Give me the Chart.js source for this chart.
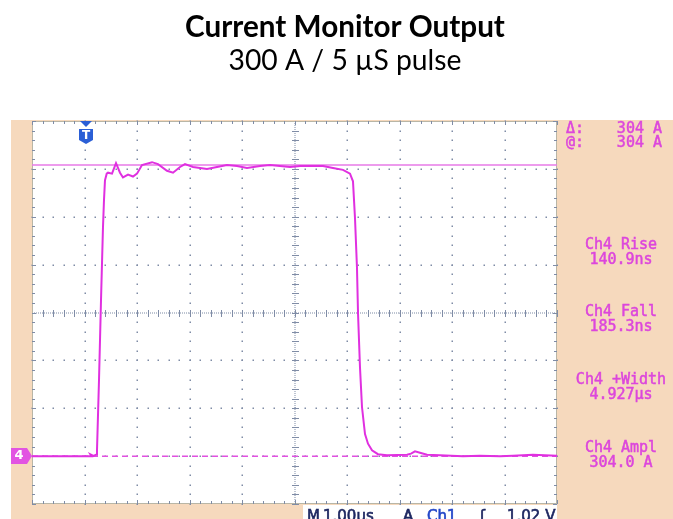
<!DOCTYPE html>
<html>
<head>
<meta charset="utf-8">
<script src="https://cdn.jsdelivr.net/npm/chart.js@4/dist/chart.umd.min.js"></script>
<style>
html,body{margin:0;padding:0;background:#fff;}
#c{display:block;}
</style>
</head>
<body>
<canvas id="c" width="673" height="519"></canvas>
<script>
// ---- data (time in µs, current in A) ----
const timeUs = [0, 1.16, 1.22, 1.238, 1.276, 1.314, 1.352, 1.371, 1.39, 1.423, 1.448, 1.524, 1.6, 1.676, 1.733, 1.829, 1.924, 2.0, 2.095, 2.286, 2.4, 2.571, 2.686, 2.819, 2.914, 3.067, 3.333, 3.524, 3.714, 3.905, 4.095, 4.343, 4.533, 4.724, 4.914, 5.105, 5.352, 5.543, 5.733, 5.924, 6.057, 6.114, 6.152, 6.19, 6.21, 6.248, 6.286, 6.343, 6.4, 6.476, 6.59, 6.762, 7.143, 7.22, 7.295, 7.39, 7.524, 7.77, 8.21, 8.53, 8.914, 9.16, 9.54, 10];
const currentA = [0, 0, 1.5, 6, 79, 162, 239, 267, 288, 295, 296, 295, 306, 296, 291, 294, 292, 295, 304, 307, 305, 298, 296, 302, 305, 302, 300, 302, 304, 303, 301, 303, 304, 303, 302, 303, 303, 303, 301, 299, 295, 287, 249, 197, 149, 92, 51, 23, 13, 6, 2, 1, 1.5, 2.6, 5, 3.5, 1.5, 1, 0, 0.5, 0, 0.5, 1.5, 0.5];
const cursorLevelsA = [304, 0];
const triggerTimeUs = 1.03;
const timeRangeUs = [0, 10];
const currentRangeA = [-50, 350];
const titleText = "Current Monitor Output";
const subtitleText = "300 A / 5 µS pulse";
const readoutTop = [["Δ:", "304 A"], ["@:", "304 A"]];
const measureLabels = ["Ch4 Rise", "Ch4 Fall", "Ch4 +Width", "Ch4 Ampl"];
const measureValues = ["140.9ns", "185.3ns", "4.927µs", "304.0 A"];
const statusText = [["M", "#1c2660"], ["1.00µs", "#1c2660"], ["A", "#1c2660"], ["Ch1", "#2346c8"], ["ʃ", "#1c2660"], ["1.02 V", "#1c2660"]];

const MAG = '#e030e0';
const PEACH = '#f6d9bd';
const GRID = '#7f8ca6';

const wave = timeUs.map((t, i) => ({x: t, y: currentA[i]}));
const cur1 = timeRangeUs.map(t => ({x: t, y: cursorLevelsA[0]}));
const cur2 = timeRangeUs.map(t => ({x: t, y: cursorLevelsA[1]}));

function boldText(ctx, txt, x, y, w) {
  ctx.lineWidth = w;
  ctx.strokeStyle = ctx.fillStyle;
  ctx.strokeText(txt, x, y);
  ctx.fillText(txt, x, y);
}

const scopePlugin = {
  id: 'scope',
  beforeDraw(chart) {
    const ctx = chart.ctx, a = chart.chartArea;
    ctx.save();
    ctx.fillStyle = '#fff';
    ctx.fillRect(0, 0, chart.width, chart.height);
    ctx.fillStyle = PEACH;
    ctx.fillRect(11, 120, chart.width - 11, chart.height - 120);
    ctx.fillStyle = '#fff';
    ctx.fillRect(a.left, a.top, a.right - a.left, a.bottom - a.top);
    ctx.fillRect(303, a.bottom + 1, a.right - 303, chart.height - a.bottom);
    ctx.restore();
  },
  beforeDatasetsDraw(chart) {
    const ctx = chart.ctx, a = chart.chartArea;
    const xs = chart.scales.x, ys = chart.scales.y;
    ctx.save();
    ctx.fillStyle = GRID;
    for (let i = timeRangeUs[0] + 1; i < timeRangeUs[1]; i++) {
      const px = xs.getPixelForValue(i);
      if (i === 5) continue;
      for (let v = currentRangeA[0]; v <= currentRangeA[1]; v += 10) {
        const py = ys.getPixelForValue(v);
        ctx.fillRect(Math.round(px) - 0.5, Math.round(py) - 0.5, 1.5, 1.5);
      }
    }
    for (let v = currentRangeA[0] + 50; v < currentRangeA[1]; v += 50) {
      const py = ys.getPixelForValue(v);
      if (v === 150) continue;
      for (let t = timeRangeUs[0]; t <= timeRangeUs[1] + 1e-9; t += 0.2) {
        const px = xs.getPixelForValue(t);
        ctx.fillRect(Math.round(px) - 0.5, Math.round(py) - 0.5, 1.5, 1.5);
      }
    }
    const cx = xs.getPixelForValue(5), cy = ys.getPixelForValue(150);
    for (let y = a.top; y <= a.bottom; y += 2) ctx.fillRect(Math.round(cx) - 0.5, y, 1, 1);
    for (let x = a.left; x <= a.right; x += 2) ctx.fillRect(x, Math.round(cy) - 0.5, 1, 1);
    for (let v = currentRangeA[0]; v <= currentRangeA[1]; v += 10) {
      const py = Math.round(ys.getPixelForValue(v));
      ctx.fillRect(Math.round(cx) - 3, py, 7, 1);
    }
    for (let t = timeRangeUs[0]; t <= timeRangeUs[1] + 1e-9; t += 0.2) {
      const px = Math.round(xs.getPixelForValue(t));
      ctx.fillRect(px, Math.round(cy) - 3, 1, 7);
    }
    ctx.strokeStyle = '#b9b6a6';
    ctx.lineWidth = 1;
    ctx.strokeRect(Math.round(a.left) + 0.5, Math.round(a.top) + 0.5, Math.round(a.right - a.left) - 1, Math.round(a.bottom - a.top) - 1);
    ctx.fillStyle = GRID;
    for (let t = timeRangeUs[0]; t <= timeRangeUs[1] + 1e-9; t += 0.2) {
      const px = Math.round(xs.getPixelForValue(t));
      const big = Math.abs(t - Math.round(t)) < 1e-6;
      ctx.fillRect(px, a.top, 1, big ? 4 : 3);
      ctx.fillRect(px, a.bottom - (big ? 4 : 3), 1, big ? 4 : 3);
    }
    for (let v = currentRangeA[0]; v <= currentRangeA[1]; v += 10) {
      const py = Math.round(ys.getPixelForValue(v));
      const big = v % 50 === 0;
      ctx.fillRect(a.left, py, big ? 4 : 3, 1);
      ctx.fillRect(a.right - (big ? 4 : 3), py, big ? 4 : 3, 1);
    }
    ctx.restore();
  },
  afterDraw(chart) {
    const ctx = chart.ctx, a = chart.chartArea;
    const xs = chart.scales.x, ys = chart.scales.y;
    ctx.save();
    ctx.fillStyle = '#000';
    ctx.textAlign = 'center';
    ctx.textBaseline = 'alphabetic';
    let s = 24;
    ctx.font = `bold ${s}px Lato`;
    s = s * 320 / ctx.measureText(titleText).width;
    ctx.font = `bold ${s}px Lato`;
    ctx.fillText(titleText, 345, 37);
    s = 24;
    ctx.font = `${s}px Lato`;
    s = s * 233 / ctx.measureText(subtitleText).width;
    ctx.font = `${s}px Lato`;
    ctx.fillText(subtitleText, 345, 70);

    // trigger marker
    const tx = Math.round(xs.getPixelForValue(triggerTimeUs));
    ctx.fillStyle = '#2b5fd6';
    ctx.beginPath();
    ctx.moveTo(tx - 6, a.top); ctx.lineTo(tx + 6, a.top); ctx.lineTo(tx, a.top + 6); ctx.closePath(); ctx.fill();
    ctx.beginPath();
    ctx.moveTo(tx - 7, a.top + 8); ctx.lineTo(tx + 7, a.top + 8); ctx.lineTo(tx + 7, a.top + 19);
    ctx.lineTo(tx, a.top + 23); ctx.lineTo(tx - 7, a.top + 19); ctx.closePath(); ctx.fill();
    ctx.fillStyle = '#fff';
    ctx.font = 'bold 12px "DejaVu Sans"';
    ctx.textAlign = 'center'; ctx.textBaseline = 'middle';
    ctx.fillText('T', tx, a.top + 15);

    // channel 4 ground marker
    const gy = Math.round(ys.getPixelForValue(0));
    ctx.fillStyle = '#e254e2';
    ctx.beginPath();
    ctx.moveTo(11, gy - 8); ctx.lineTo(27, gy - 8); ctx.lineTo(32, gy); ctx.lineTo(27, gy + 8); ctx.lineTo(11, gy + 8); ctx.closePath(); ctx.fill();
    ctx.fillStyle = '#fff';
    ctx.font = 'bold 13px "DejaVu Sans"';
    ctx.fillText('4', 19, gy);
    ctx.fillStyle = MAG;
    const ax = xs.getPixelForValue(1.14);
    ctx.beginPath(); ctx.moveTo(ax - 4, gy - 4); ctx.lineTo(ax + 2, gy - 1); ctx.lineTo(ax - 1, gy + 1); ctx.closePath(); ctx.fill();

    // right readouts
    ctx.fillStyle = '#dc46dc';
    ctx.font = '15px "DejaVu Sans Mono"';
    ctx.textBaseline = 'middle';
    readoutTop.forEach((r, i) => {
      const y = 129 + i * 14.5;
      ctx.textAlign = 'left';
      boldText(ctx, r[0], 566, y, 0.5);
      ctx.textAlign = 'right';
      boldText(ctx, r[1], 662, y, 0.5);
    });
    ctx.textAlign = 'center';
    const ys0 = [245, 312, 380, 448];
    measureLabels.forEach((l, i) => {
      boldText(ctx, l, 621, ys0[i], 0.5);
      boldText(ctx, measureValues[i], 621, ys0[i] + 15.5, 0.5);
    });

    // status line
    ctx.font = '15px "DejaVu Sans"';
    ctx.textAlign = 'left';
    ctx.textBaseline = 'alphabetic';
    const sx = [307, 323, 403, 427, 480, 507];
    statusText.forEach((st, i) => {
      ctx.fillStyle = st[1];
      boldText(ctx, st[0], sx[i], 521, 0.6);
    });
    ctx.restore();
  }
};

new Chart(document.getElementById('c'), {
  type: 'line',
  data: {
    datasets: [
      {data: wave, borderColor: MAG, borderWidth: 2, pointRadius: 0, tension: 0, fill: false},
      {data: cur1, borderColor: '#e77ae7', borderWidth: 1.5, pointRadius: 0, fill: false},
      {data: cur2, borderColor: '#e050e0', borderWidth: 1.5, borderDash: [6, 4], pointRadius: 0, fill: false}
    ]
  },
  options: {
    responsive: false,
    animation: false,
    devicePixelRatio: 1,
    layout: {padding: {left: 32, right: 116, top: 121, bottom: 15}},
    plugins: {legend: {display: false}, title: {display: false}, tooltip: {enabled: false}},
    scales: {
      x: {type: 'linear', min: timeRangeUs[0], max: timeRangeUs[1], display: false},
      y: {type: 'linear', min: currentRangeA[0], max: currentRangeA[1], display: false}
    }
  },
  plugins: [scopePlugin]
});
</script>
</body>
</html>
